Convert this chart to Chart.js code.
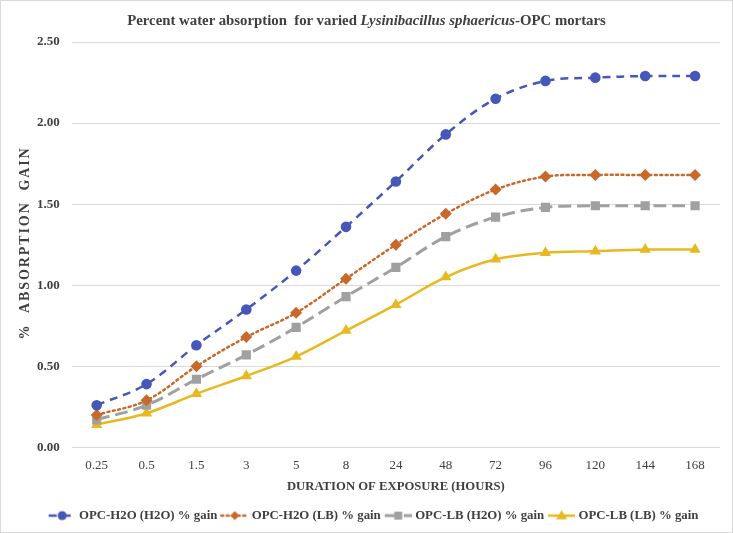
<!DOCTYPE html>
<html>
<head>
<meta charset="utf-8">
<script src="https://cdn.jsdelivr.net/npm/chart.js@4.4.1/dist/chart.umd.min.js"></script>
<style>
  body { margin: 0; background: #fff; }
  #wrap { position: relative; width: 731px; height: 531px; border: 1px solid #d9d9d9; background: #fff; }
  #title { position: absolute; left: 0; width: 100%; top: 11px; text-align: center;
           font: bold 14.8px "Liberation Serif", serif; color: #404040; }
  #chart { position: absolute; left: 0; top: 0; }
</style>
</head>
<body>
<div id="wrap">
  <canvas id="chart" width="731" height="531"></canvas>
  <div id="title">Percent water absorption&nbsp; for varied <i>Lysinibacillus sphaericus</i>-OPC mortars</div>
</div>
<script>
// data
const hours = ['0.25', '0.5', '1.5', '3', '5', '8', '24', '48', '72', '96', '120', '144', '168'];
const opcH2O_H2O = [0.26, 0.39, 0.63, 0.85, 1.09, 1.36, 1.64, 1.93, 2.15, 2.26, 2.28, 2.29, 2.29];
const opcH2O_LB  = [0.20, 0.29, 0.50, 0.68, 0.83, 1.04, 1.25, 1.44, 1.59, 1.67, 1.68, 1.68, 1.68];
const opcLB_H2O  = [0.17, 0.26, 0.42, 0.57, 0.74, 0.93, 1.11, 1.30, 1.42, 1.48, 1.49, 1.49, 1.49];
const opcLB_LB   = [0.14, 0.21, 0.33, 0.44, 0.56, 0.72, 0.88, 1.05, 1.16, 1.20, 1.21, 1.22, 1.22];
const yTicks = [0, 0.5, 1, 1.5, 2, 2.5];

const serif = '"Liberation Serif", "Times New Roman", serif';
const blue = '#4557b8';
const orange = '#c8692a';
const grey = '#a0a0a0';
const yellow = '#e8b820';

// little legend swatch: line piece with the marker in the middle
function swatch(color, dash, width, style, r) {
    const c = document.createElement('canvas');
    c.width = 32; c.height = 14;
    const g = c.getContext('2d');
    const mx = 18.5;
    g.strokeStyle = color;
    g.lineWidth = width;
    g.setLineDash(dash);
    g.lineCap = dash.length && dash[0] < 3 ? 'round' : 'butt';
    g.beginPath(); g.moveTo(5, 7); g.lineTo(32, 7); g.stroke();
    g.setLineDash([]);
    g.fillStyle = color;
    g.beginPath();
    if (style === 'circle') g.arc(mx, 7, r, 0, Math.PI * 2);
    else if (style === 'rectRot') { g.moveTo(mx, 7 - r); g.lineTo(mx + r, 7); g.lineTo(mx, 7 + r); g.lineTo(mx - r, 7); }
    else if (style === 'rect') g.rect(mx - r, 7 - r, 2 * r, 2 * r);
    else { g.moveTo(mx, 7 - r); g.lineTo(mx + r, 7 + r * 0.7); g.lineTo(mx - r, 7 + r * 0.7); }
    g.closePath(); g.fill();
    return c;
}

const sets = [
    { label: 'OPC-H2O (H2O) % gain', data: opcH2O_H2O, color: blue, dash: [8, 6], width: 2.5, style: 'circle', r: 5.3, lr: 4.5 },
    { label: 'OPC-H2O (LB) % gain', data: opcH2O_LB, color: orange, dash: [2, 3.5], width: 2.5, style: 'rectRot', r: 6, lr: 4.5 },
    { label: 'OPC-LB (H2O) % gain', data: opcLB_H2O, color: grey, dash: [13, 6], width: 3, style: 'rect', r: 6.5, lr: 4 },
    { label: 'OPC-LB (LB) % gain', data: opcLB_LB, color: yellow, dash: [], width: 2.5, style: 'triangle', r: 6.5, lr: 5.5 }
];

const yTitle = {
    id: 'yTitle',
    afterDraw(chart) {
        const g = chart.ctx;
        g.save();
        g.translate(24, 242);
        g.rotate(-Math.PI / 2);
        g.font = 'bold 14px ' + serif;
        g.letterSpacing = '1.9px';
        g.fillStyle = '#404040';
        g.textAlign = 'center';
        g.textBaseline = 'middle';
        g.fillText('%  ABSORPTION  GAIN', 0, 0);
        g.restore();
    }
};

new Chart(
    document.getElementById('chart'),
    {
        type: 'line',
        plugins: [yTitle],
        data: {
            labels: hours,
            datasets: sets.map(s => ({
                label: s.label,
                data: s.data,
                borderColor: s.color,
                backgroundColor: s.color,
                borderWidth: s.width,
                borderDash: s.dash,
                borderCapStyle: s.dash.length && s.dash[0] < 3 ? 'round' : 'butt',
                tension: 0.35,
                pointStyle: s.style,
                pointRadius: s.r,
                pointBorderWidth: 0,
                legendSwatch: swatch(s.color, s.dash, s.width, s.style, s.lr)
            }))
        },
        options: {
            responsive: false,
            animation: false,
            layout: { padding: { top: 41, left: 24, right: 12, bottom: 0 } },
            plugins: {
                tooltip: { enabled: false },
                legend: {
                    position: 'bottom',
                    labels: {
                        usePointStyle: true,
                        pointStyleWidth: 26,
                        padding: 2,
                        color: '#404040',
                        font: { family: serif, size: 12.8, weight: 'bold' },
                        generateLabels(chart) {
                            return chart.data.datasets.map((d, i) => ({
                                text: d.label,
                                pointStyle: d.legendSwatch,
                                fillStyle: d.borderColor,
                                strokeStyle: d.borderColor,
                                lineWidth: 0,
                                fontColor: '#404040',
                                hidden: false,
                                datasetIndex: i
                            }));
                        }
                    }
                }
            },
            scales: {
                x: {
                    offset: true,
                    grid: { display: false, drawTicks: false },
                    border: { display: false },
                    ticks: { color: '#404040', font: { family: serif, size: 13 }, padding: 10 },
                    title: {
                        display: true,
                        text: 'DURATION OF EXPOSURE (HOURS)',
                        color: '#404040',
                        font: { family: serif, size: 12.7, weight: 'bold' },
                        padding: { top: -4, bottom: 13 }
                    }
                },
                y: {
                    min: 0,
                    max: 2.5,
                    afterBuildTicks(axis) { axis.ticks = yTicks.map(v => ({ value: v })); },
                    grid: { color: '#d9d9d9', lineWidth: 1, drawTicks: false },
                    border: { display: false },
                    ticks: {
                        color: '#404040',
                        font: { family: serif, size: 13, weight: 'bold' },
                        padding: 12,
                        callback: v => v.toFixed(2)
                    }
                }
            }
        }
    }
);
</script>
</body>
</html>
